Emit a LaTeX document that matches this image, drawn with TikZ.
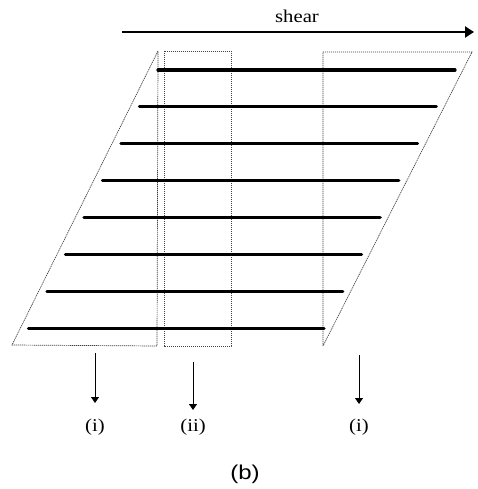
\documentclass[tikz,border=0pt]{standalone}
\usepackage{fontspec}
\setmainfont[FakeStretch=1.15]{Liberation Serif}
\newfontfamily\labfont[FakeStretch=1.2]{Liberation Sans}
\usetikzlibrary{arrows.meta}
\begin{document}
\begin{tikzpicture}[x=1pt,y=-1pt,
  outline/.style={line width=0.7pt,dash pattern=on 1.2pt off 0.8pt,black!75},
  layer/.style={line width=3.2pt,line cap=round},
  down/.style={line width=1pt,-{Triangle[length=6pt,width=8pt]}},
  lab/.style={font=\fontsize{18}{20}\selectfont,inner sep=0pt}]
\useasboundingbox (0,0) rectangle (478,489);
% shear arrow
\coordinate (s0) at (122,32);
\coordinate (s1) at (474,32);
\draw[line width=2.2pt,-{Triangle[length=9pt,width=11pt]}] (s0) -- (s1);
\node[lab] (shear) at (297,16) {shear};
% left region (i)
\coordinate (a1) at (158,51);
\coordinate (a2) at (12,345);
\coordinate (a3) at (157,346);
\draw[outline] (a1) -- (a2) -- (a3) -- (a1);
% middle region (ii)
\coordinate (b1) at (164,51);
\coordinate (b2) at (231,346);
\draw[outline] (b1) rectangle (b2);
% right region (i)
\coordinate (c1) at (323,346);
\coordinate (c2) at (323,52);
\coordinate (c3) at (472,52);
\draw[outline] (c1) -- (c2) -- (c3) -- (c1);
% layers
\foreach \i in {0,...,7}{
  \coordinate (L\i a) at ({158-18.5*\i},{70+36.9*\i});
  \coordinate (L\i b) at ({455-18.7*\i},{70+36.9*\i});
  \draw[layer] (L\i a) -- (L\i b);
}
% arrows and labels
\coordinate (d1) at (95,353);
\coordinate (e1) at (95,403);
\coordinate (d2) at (193,362);
\coordinate (e2) at (193,410);
\coordinate (d3) at (359,355);
\coordinate (e3) at (359,404);
\draw[down] (d1) -- (e1);
\draw[down] (d2) -- (e2);
\draw[down] (d3) -- (e3);
\node[lab] (l1) at (95,427) {(i)};
\node[lab] (l2) at (193,427) {(ii)};
\node[lab] (l3) at (359,427) {(i)};
\node[font=\labfont\fontsize{20}{22}\selectfont,inner sep=0pt] (b) at (245,474) {(b)};
\end{tikzpicture}
\end{document}
